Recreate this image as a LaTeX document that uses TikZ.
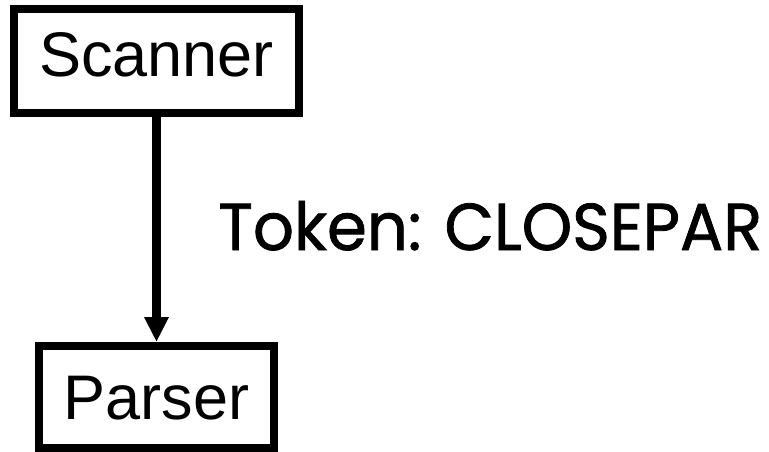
\documentclass[tikz,border=0pt]{standalone}
\usepackage{fontspec}
\setmainfont{Liberation Sans}
\newfontfamily\tokenfont[FakeBold=1.2]{Poppins}
\usetikzlibrary{arrows.meta}

\tikzset{
  stagebox/.style={draw=black, line width=8pt, rectangle, inner sep=0pt,
    font=\fontsize{63pt}{70pt}\selectfont},
  flow/.style={line width=8.5pt, -{Triangle[width=23pt,length=25pt]}},
  tokenlabel/.style={inner sep=0pt, anchor=base west}
}

\begin{document}
\begin{tikzpicture}[x=1pt, y=1pt]
  \useasboundingbox (0,0) rectangle (769,-452);

  % the two compiler stages
  \node[stagebox, minimum width=285pt, minimum height=104pt,
        text height=45pt, text depth=13pt] (scanner) at (156.5,-61) {Scanner};
  \node[stagebox, minimum width=235pt, minimum height=102pt,
        text height=45pt, text depth=0pt] (parser) at (156.5,-397) {Parser};

  % token handed from scanner to parser
  \draw[flow] (scanner.south) -- (parser.north);

  \node[tokenlabel] (token) at (218,-250)
    {\resizebox{544pt}{49pt}{\tokenfont Token: CLOSEPAR}};
\end{tikzpicture}
\end{document}
